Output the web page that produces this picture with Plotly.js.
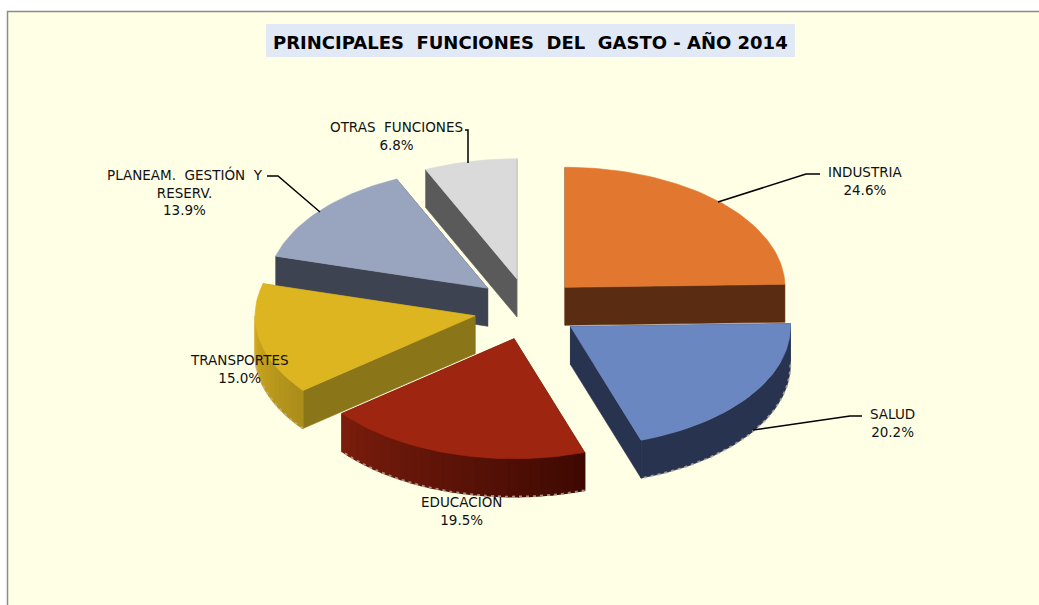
<!DOCTYPE html>
<html>
<head>
<meta charset="utf-8">
<script src="https://cdn.plot.ly/plotly-3.0.1.min.js"></script>
<style>html,body{margin:0;padding:0;background:#fff;overflow:hidden}#chart{width:1039px;height:605px}</style>
</head>
<body>
<div id="chart"></div>
<script>
// ---- data ----
const categories = ['INDUSTRIA','SALUD','EDUCACIÓN','TRANSPORTES','PLANEAM.\u00A0\u00A0GESTIÓN\u00A0\u00A0Y<br>RESERV.','OTRAS\u00A0\u00A0FUNCIONES'];
const values = [24.6,20.2,19.5,15.0,13.9,6.8];
const chartTitle = 'PRINCIPALES\u00A0\u00A0FUNCIONES\u00A0\u00A0DEL\u00A0\u00A0GASTO\u00A0-\u00A0AÑO\u00A02014';

// ---- styles ----
const topColors  = ['#E27830','#6A87C2','#9E2510','#DDB521','#99A4BF','#DADADA'];
const faceColors = ['#5A2D12','#28344F','#5A1206','#8A7518','#3E4352','#5A5A5A'];
const wallFrom   = ['#5A2D12','#28344F','#3E0902','#A98C1A','#3E4352','#5A5A5A'];
const wallTo     = ['#5A2D12','#28344F','#7A1D0C','#D2AA20','#3E4352','#5A5A5A'];
const labelX = [865,892,461,239,185,396];
const labelY = [181,423,510,369,192,136];
const drawOrder = [5,4,0,3,2,1];
const fringe = [false,true,true,true,false,false];
const nudgeX = [0,-1,1,-1,0,0];
const nudgeY = [0,2,3,2,-1,-1];

// ---- projection of the tilted, exploded pie ----
const cx = 528, cy = 308, rx = 220, ry = 120, depth = 38, explode = 53;
const total = values.reduce((a,b)=>a+b,0);
const rad = d => d*Math.PI/180;
const px = (ox,a) => ox + rx*Math.sin(rad(a));
const py = (oy,a) => oy - ry*Math.cos(rad(a));
const hex = c => [1,3,5].map(i=>parseInt(c.substr(i,2),16));
const mix = (a,b,t) => { const A=hex(a),B=hex(b); return 'rgb('+A.map((v,i)=>Math.round(v+(B[i]-v)*t)).join(',')+')'; };

function poly(xs,ys,color,name,lw){
  return {type:'scatter',mode:'lines',x:xs,y:ys,fill:'toself',fillcolor:color,
    line:{color:color,width:lw===undefined?0.6:lw},hoverinfo:'skip',name:name,showlegend:false};
}

const starts=[]; let acc=0;
values.forEach(v=>{starts.push(acc); acc+=v/total*360;});

const traces=[];
drawOrder.forEach(i=>{
  const a0=starts[i], a1=a0+values[i]/total*360, mid=(a0+a1)/2;
  const ox=cx+explode*Math.sin(rad(mid))+nudgeX[i], oy=cy-explode*ry/rx*Math.cos(rad(mid))+nudgeY[i];
  const name=categories[i].replace(/<br>/g,' ');
  [a0,a1].forEach(a=>{
    traces.push(poly([ox,px(ox,a),px(ox,a),ox,ox],[oy,py(oy,a),py(oy,a)+depth,oy+depth,oy],faceColors[i],name));
  });
  const w0=Math.max(a0,90), w1=Math.min(a1,270);
  if(w1>w0){
    const uniform = wallFrom[i]===wallTo[i];
    const strips = uniform ? 1 : Math.ceil((w1-w0)/3);
    const fx=[],fy=[];
    for(let s=0;s<strips;s++){
      const b0=w0+(w1-w0)*s/strips, b1=w0+(w1-w0)*(s+1)/strips;
      const xs=[],ys=[],bx=[],by=[];
      const n=Math.ceil((b1-b0)/1.5);
      for(let k=0;k<=n;k++){
        const b=b0+(b1-b0)*k/n;
        xs.push(px(ox,b)); ys.push(py(oy,b));
        bx.unshift(px(ox,b)); by.unshift(py(oy,b)+depth);
        if(k>0||s===0){fx.push(px(ox,b)); fy.push(py(oy,b)+depth);}
      }
      traces.push(poly(xs.concat(bx,[xs[0]]),ys.concat(by,[ys[0]]),mix(wallFrom[i],wallTo[i],(s+0.5)/strips),name,uniform?0.6:1.4));
    }
    if(fringe[i]) traces.push({type:'scatter',mode:'lines',x:fx,y:fy,hoverinfo:'skip',showlegend:false,name:name,
      line:{color:'rgba(190,180,170,0.75)',width:2,dash:'3px,4px'}});
  }
  const xs=[ox],ys=[oy];
  const n=Math.ceil((a1-a0)/1.5);
  for(let s=0;s<=n;s++){const a=a0+(a1-a0)*s/n; xs.push(px(ox,a)); ys.push(py(oy,a));}
  xs.push(ox); ys.push(oy);
  traces.push(poly(xs,ys,topColors[i],name));
});

const annotations = categories.map((c,i)=>({
  x:labelX[i],y:labelY[i],xref:'x',yref:'y',showarrow:false,xanchor:'center',yanchor:'middle',align:'center',
  text:c+'<br>'+values[i].toFixed(1)+'%',
  font:{family:'"DejaVu Sans", sans-serif',size:13.5,color:'#111'}
}));
annotations.push({x:530.5,y:41.5,xref:'x',yref:'y',showarrow:false,xanchor:'center',yanchor:'middle',
  text:'<b>'+chartTitle+'</b>',font:{family:'"DejaVu Sans", sans-serif',size:18,color:'#000'}});

const leader=(d)=>({type:'path',path:d,xref:'x',yref:'y',line:{color:'#000',width:1.5},layer:'above'});
const shapes=[
  {type:'rect',xref:'x',yref:'y',x0:7.5,y0:11.5,x1:1060,y1:630,fillcolor:'#FFFFE6',line:{color:'#8C8C8C',width:1.5},layer:'below'},
  {type:'rect',xref:'x',yref:'y',x0:266,y0:24,x1:795,y1:57,fillcolor:'#E1E9F7',line:{width:0},layer:'below'},
  leader('M718,202 L806,174 L820,174'),
  leader('M753,430 L850,416 L862,416'),
  leader('M468,163 L468,130 L465,130'),
  leader('M320,212 L278,176 L267,176')
];

Plotly.newPlot('chart',traces,{
  width:1039,height:605,margin:{l:0,r:0,t:0,b:0},
  paper_bgcolor:'#fff',plot_bgcolor:'rgba(0,0,0,0)',showlegend:false,
  xaxis:{range:[0,1039],visible:false,fixedrange:true},
  yaxis:{range:[605,0],visible:false,fixedrange:true},
  shapes:shapes,annotations:annotations
},{displayModeBar:false,staticPlot:true});
</script>
</body>
</html>
